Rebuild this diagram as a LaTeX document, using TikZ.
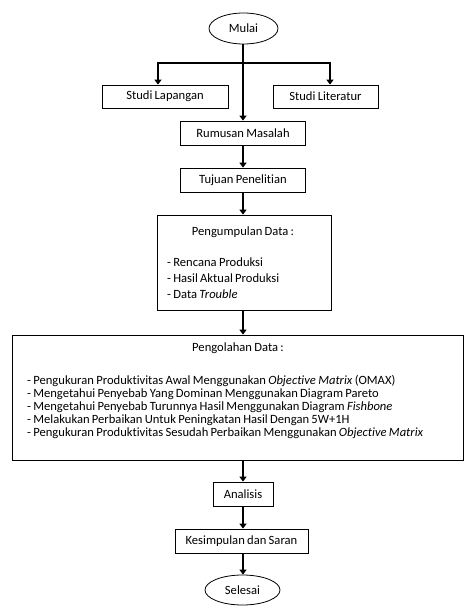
\documentclass[tikz,border=0pt]{standalone}
\usepackage{fontspec}
\setmainfont[WordSpace={0.8,0.8,0.8},Ligatures={NoCommon}]{Carlito}
\usetikzlibrary{shapes.geometric,arrows.meta}
\begin{document}
\begin{tikzpicture}[x=1pt,y=-1pt,
  every node/.style={font=\fontsize{12.6}{13}\selectfont, inner sep=0pt},
  box/.style={draw, line width=0.8pt, rectangle},
  oval/.style={draw, line width=0.8pt, ellipse},
  arr/.style={line width=2.8pt, -{Triangle[width=7pt,length=5pt]}}]
\useasboundingbox (0,0) rectangle (464,608);
\node[oval, minimum width=69pt, minimum height=31pt] (mulai) at (243.5,28.5) {Mulai};
\node[box, minimum width=126pt, minimum height=23pt] (lap) at (165,96.5) {Studi Lapangan};
\node[box, minimum width=105pt, minimum height=23pt] (lit) at (325.5,96.5) {Studi Literatur};
\node[box, minimum width=125pt, minimum height=24pt] (rum) at (243,133) {Rumusan Masalah};
\node[box, minimum width=125pt, minimum height=24pt] (tuj) at (243,180) {Tujuan Penelitian};
\node[box, minimum width=174pt, minimum height=95pt] (kump) at (244,262.5) {};
\node (kumpT) at (243,232) {Pengumpulan Data :};
\node[anchor=west, align=left, font=\fontsize{12.6}{16}\selectfont] (kumpL) at (167,278) {- Rencana Produksi\\- Hasil Aktual Produksi\\- Data \textit{Trouble}};
\node[box, minimum width=451pt, minimum height=125pt] (olah) at (237.5,397.5) {};
\node (olahT) at (238,348) {Pengolahan Data :};
\node[anchor=west, align=left] (olahL) at (27,407) {- Pengukuran Produktivitas Awal Menggunakan \textit{Objective Matrix} (OMAX)\\
- Mengetahui Penyebab Yang Dominan Menggunakan Diagram Pareto\\
- Mengetahui Penyebab Turunnya Hasil Menggunakan Diagram \textit{Fishbone}\\
- Melakukan Perbaikan Untuk Peningkatan Hasil Dengan 5W+1H\\
- Pengukuran Produktivitas Sesudah Perbaikan Menggunakan \textit{Objective Matrix}};
\node[box, minimum width=60pt, minimum height=24pt] (anl) at (243,494) {Analisis};
\node[box, minimum width=133pt, minimum height=24pt] (kes) at (241.5,541) {Kesimpulan dan Saran};
\node[oval, minimum width=75pt, minimum height=30pt] (sel) at (242.5,590) {Selesai};
\coordinate (bl) at (158,63);
\coordinate (br) at (330,63);
\draw[arr] (mulai.south -| rum.north) -- (rum.north);
\draw[arr] (br) -- (bl) -- (bl |- lap.north);
\draw[arr] (bl) -- (br) -- (br |- lit.north);
\draw[arr] (rum) -- (tuj);
\draw[arr] (tuj) -- (tuj |- kump.north);
\draw[arr] (kump.south -| tuj.south) -- (tuj.south |- olah.north);
\draw[arr] (olah.south -| anl.north) -- (anl.north);
\draw[arr] (anl.south) -- (anl.south |- kes.north);
\draw[arr] (kes.south -| anl.south) -- (anl.south |- sel.north);
\end{tikzpicture}
\end{document}
